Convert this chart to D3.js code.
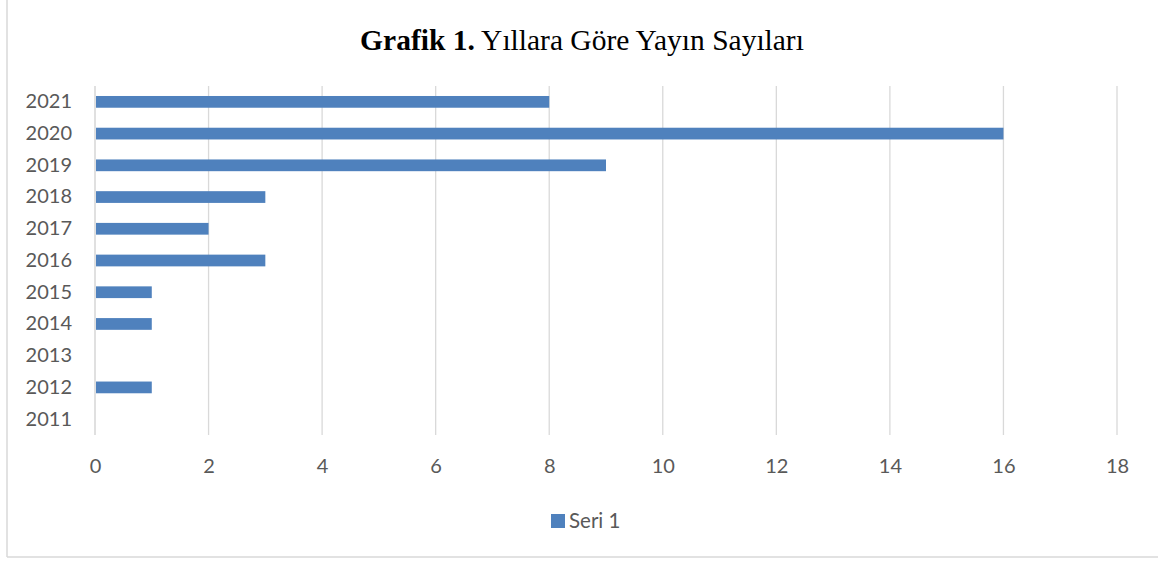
<!DOCTYPE html>
<html><head><meta charset="utf-8">
<script src="https://cdn.jsdelivr.net/npm/d3@7"></script>
<style>html,body{margin:0;padding:0;background:#fff;}svg{display:block;}</style>
</head><body>
<svg id="chart" width="1158" height="561"></svg>
<script>
const categories = ["2021","2020","2019","2018","2017","2016","2015","2014","2013","2012","2011"];
const values = [8,16,9,3,2,3,1,1,0,1,0];
const xTicks = [0,2,4,6,8,10,12,14,16,18];
const seriesName = "Seri 1";

const svg = d3.select("#chart");
const W = 1158, H = 561;
const m = {left:95, right:41, top:86, bottom:126};

// frame
svg.append("line").attr("x1",7).attr("x2",7).attr("y1",0).attr("y2",557).attr("stroke","#d9d9d9").attr("stroke-width",1.5);
svg.append("line").attr("x1",7).attr("x2",W).attr("y1",557).attr("y2",557).attr("stroke","#d9d9d9").attr("stroke-width",1.5);

const x = d3.scaleLinear().domain([0,18]).range([m.left, W-m.right]);
const y = d3.scaleBand().domain(categories).range([m.top, H-m.bottom]).paddingInner(0.63).paddingOuter(0.315);

const font = "Lato, 'Liberation Sans', sans-serif";

// gridlines
svg.append("g").selectAll("line").data(xTicks).join("line")
  .attr("x1",d=>x(d)).attr("x2",d=>x(d)).attr("y1",m.top).attr("y2",H-m.bottom)
  .attr("stroke",d=>d===0?"#d0d0d0":"#d9d9d9").attr("stroke-width",1.3);

// bars
svg.append("g").selectAll("rect").data(values).join("rect")
  .attr("x",x(0)+1).attr("y",(d,i)=>y(categories[i]))
  .attr("width",d=>Math.max(0,x(d)-x(0)-1)).attr("height",y.bandwidth())
  .attr("fill","#4f81bd");

// x axis labels
const xAxis = d3.axisBottom(x).tickValues(xTicks).tickSize(0).tickPadding(24);
const gx = svg.append("g").attr("transform",`translate(0,${H-m.bottom})`).call(xAxis);
gx.select(".domain").remove();
gx.selectAll("text").attr("font-family",font).attr("font-size",20).attr("fill","#595959");

// y axis labels
const yAxis = d3.axisLeft(y).tickSize(0).tickPadding(23);
const gy = svg.append("g").attr("transform",`translate(${m.left},0)`).call(yAxis);
gy.select(".domain").remove();
gy.selectAll("text").attr("font-family",font).attr("font-size",20).attr("fill","#595959");

// title
const t = svg.append("text").attr("x",582).attr("y",50).attr("text-anchor","middle")
  .attr("font-family","'Liberation Serif','Times New Roman',serif").attr("font-size",29.5).attr("fill","#000");
t.append("tspan").attr("font-weight","bold").text("Grafik 1.");
t.append("tspan").text(" Yıllara Göre Yayın Sayıları");

// legend
svg.append("rect").attr("x",551).attr("y",514).attr("width",14).attr("height",14).attr("fill","#4f81bd");
svg.append("text").attr("x",569).attr("y",528).attr("font-family",font).attr("font-size",20.5).attr("fill","#595959").text(seriesName);
</script>
</body></html>
